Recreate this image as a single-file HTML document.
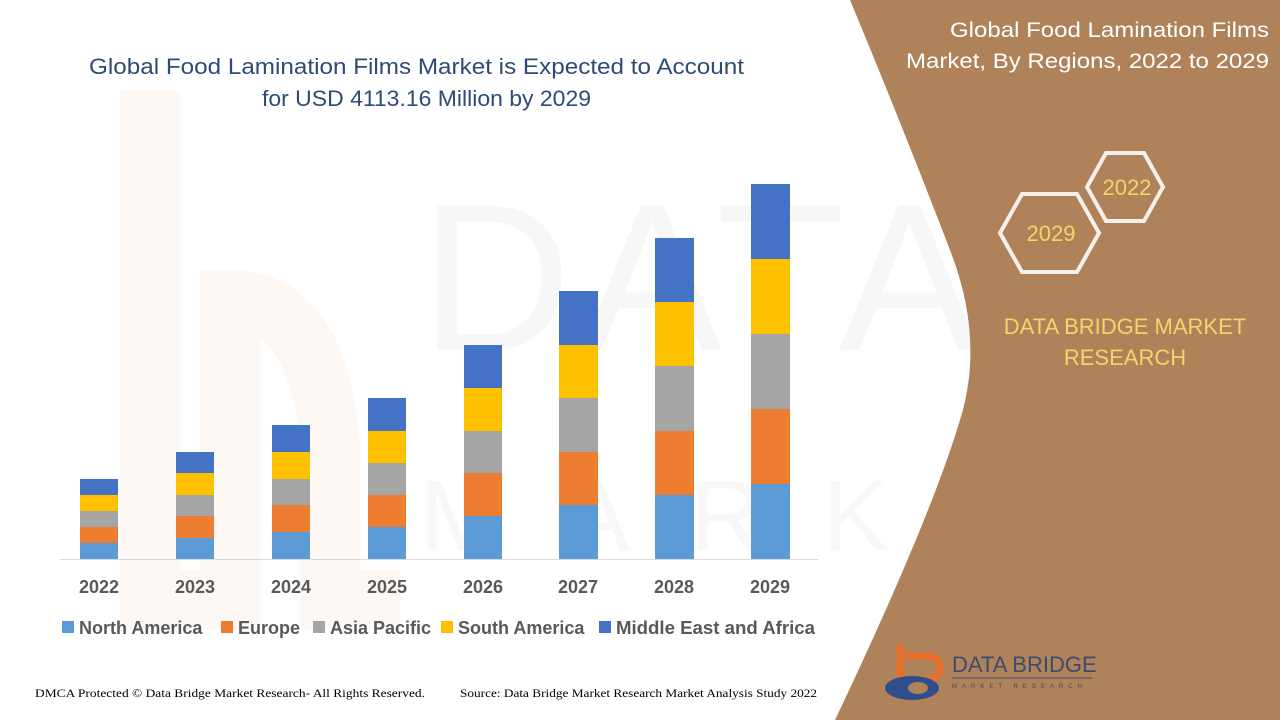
<!DOCTYPE html>
<html><head><meta charset="utf-8"><style>
html,body{margin:0;padding:0;background:#fff}
svg{display:block}
</style></head><body>
<svg width="1280" height="720" xmlns="http://www.w3.org/2000/svg" font-family="Liberation Sans, sans-serif">
<rect width="1280" height="720" fill="#fff"/>
<!-- faint watermark -->
<text x="420" y="350" font-size="210" fill="#f7f7f7" letter-spacing="10">DATA BRIDGE</text>
<text x="420" y="550" font-size="100" fill="#f8f8f8" letter-spacing="60">MARKET RESEARCH</text>
<path d="M150 90 L150 600 L230 600 L230 300 Q320 300 330 450 L330 600 L400 600" fill="none" stroke="#fef8f4" stroke-width="60"/>
<!-- brown panel -->
<path d="M850 0 L1280 0 L1280 720 L835 720 Q930 520 960 420 Q985 340 950 250 Q900 120 850 0 Z" fill="#b08259"/>
<text x="1269" y="37" font-size="21" fill="#fff" text-anchor="end" textLength="319" lengthAdjust="spacingAndGlyphs">Global Food Lamination Films</text>
<text x="1269" y="68" font-size="21" fill="#fff" text-anchor="end" textLength="363" lengthAdjust="spacingAndGlyphs">Market, By Regions, 2022 to 2029</text>
<polygon points="1087,187 1106,153 1144,153 1163,187 1144,221 1106,221" fill="none" stroke="#f4f0ea" stroke-width="4"/>
<polygon points="1000,233 1022,194 1077,194 1099,233 1077,272 1022,272" fill="none" stroke="#f4f0ea" stroke-width="4"/>
<text x="1127" y="195" font-size="22" fill="#f7d36a" text-anchor="middle">2022</text>
<text x="1051" y="241" font-size="22" fill="#f7d36a" text-anchor="middle">2029</text>
<text x="1125" y="334" font-size="22" fill="#f7d36a" text-anchor="middle">DATA BRIDGE MARKET</text>
<text x="1125" y="365" font-size="22" fill="#f7d36a" text-anchor="middle">RESEARCH</text>
<!-- logo -->
<path d="M900 645 L900 680 L925 680 Q940 680 940 668 Q940 656 925 656 L905 656" fill="none" stroke="#e8702a" stroke-width="7"/>
<ellipse cx="912" cy="688" rx="27" ry="12" fill="#2e4f8a"/>
<ellipse cx="918" cy="688" rx="10" ry="6" fill="#b08259"/>
<text x="952" y="672" font-size="22" fill="#3b4d6b">DATA BRIDGE</text>
<line x1="952" y1="678" x2="1092" y2="678" stroke="#3b4d6b" stroke-width="1"/>
<text x="952" y="688" font-size="6" fill="#3b4d6b" letter-spacing="5">MARKET RESEARCH</text>
<!-- title -->
<text x="89" y="74" font-size="22" fill="#2e4a78" textLength="655" lengthAdjust="spacingAndGlyphs">Global Food Lamination Films Market is Expected to Account</text>
<text x="262" y="106" font-size="22" fill="#2e4a78" textLength="329" lengthAdjust="spacingAndGlyphs">for USD 4113.16 Million by 2029</text>
<line x1="60" y1="559.5" x2="818" y2="559.5" stroke="#d9d9d9" stroke-width="1"/>
<g font-size="18" font-weight="bold" fill="#595959" text-anchor="middle">
<text x="99" y="593">2022</text><text x="195" y="593">2023</text><text x="291" y="593">2024</text><text x="387" y="593">2025</text>
<text x="483" y="593">2026</text><text x="578" y="593">2027</text><text x="674" y="593">2028</text><text x="770" y="593">2029</text>
</g>
<g font-size="18" font-weight="bold" fill="#595959">
<rect x="62" y="621" width="12" height="12" fill="#5b9bd5"/><text x="79" y="634">North America</text>
<rect x="221" y="621" width="12" height="12" fill="#ed7d31"/><text x="238" y="634">Europe</text>
<rect x="313" y="621" width="12" height="12" fill="#a5a5a5"/><text x="330" y="634">Asia Pacific</text>
<rect x="441" y="621" width="12" height="12" fill="#ffc000"/><text x="458" y="634">South America</text>
<rect x="599" y="621" width="12" height="12" fill="#4472c4"/><text x="616" y="634" textLength="199" lengthAdjust="spacingAndGlyphs">Middle East and Africa</text>
</g>
<text x="35" y="697" font-size="12" fill="#000" font-family="Liberation Serif, serif" textLength="390" lengthAdjust="spacingAndGlyphs">DMCA Protected © Data Bridge Market Research- All Rights Reserved.</text>
<text x="460" y="697" font-size="12" fill="#000" font-family="Liberation Serif, serif" textLength="357" lengthAdjust="spacingAndGlyphs">Source: Data Bridge Market Research Market Analysis Study 2022</text>
<g>
<rect x="80" y="543" width="38" height="16" fill="#5b9bd5"/><rect x="80" y="527" width="38" height="16" fill="#ed7d31"/><rect x="80" y="511" width="38" height="16" fill="#a5a5a5"/><rect x="80" y="495" width="38" height="16" fill="#ffc000"/><rect x="80" y="479" width="38" height="16" fill="#4472c4"/>
<rect x="176" y="538" width="38" height="21" fill="#5b9bd5"/><rect x="176" y="516" width="38" height="22" fill="#ed7d31"/><rect x="176" y="495" width="38" height="21" fill="#a5a5a5"/><rect x="176" y="473" width="38" height="22" fill="#ffc000"/><rect x="176" y="452" width="38" height="21" fill="#4472c4"/>
<rect x="272" y="532" width="38" height="27" fill="#5b9bd5"/><rect x="272" y="505" width="38" height="27" fill="#ed7d31"/><rect x="272" y="479" width="38" height="26" fill="#a5a5a5"/><rect x="272" y="452" width="38" height="27" fill="#ffc000"/><rect x="272" y="425" width="38" height="27" fill="#4472c4"/>
<rect x="368" y="527" width="38" height="32" fill="#5b9bd5"/><rect x="368" y="495" width="38" height="32" fill="#ed7d31"/><rect x="368" y="463" width="38" height="32" fill="#a5a5a5"/><rect x="368" y="431" width="38" height="32" fill="#ffc000"/><rect x="368" y="398" width="38" height="33" fill="#4472c4"/>
<rect x="464" y="516" width="38" height="43" fill="#5b9bd5"/><rect x="464" y="473" width="38" height="43" fill="#ed7d31"/><rect x="464" y="431" width="38" height="42" fill="#a5a5a5"/><rect x="464" y="388" width="38" height="43" fill="#ffc000"/><rect x="464" y="345" width="38" height="43" fill="#4472c4"/>
<rect x="559" y="505" width="39" height="54" fill="#5b9bd5"/><rect x="559" y="452" width="39" height="53" fill="#ed7d31"/><rect x="559" y="398" width="39" height="54" fill="#a5a5a5"/><rect x="559" y="345" width="39" height="53" fill="#ffc000"/><rect x="559" y="291" width="39" height="54" fill="#4472c4"/>
<rect x="655" y="495" width="39" height="64" fill="#5b9bd5"/><rect x="655" y="431" width="39" height="64" fill="#ed7d31"/><rect x="655" y="366" width="39" height="65" fill="#a5a5a5"/><rect x="655" y="302" width="39" height="64" fill="#ffc000"/><rect x="655" y="238" width="39" height="64" fill="#4472c4"/>
<rect x="751" y="484" width="39" height="75" fill="#5b9bd5"/><rect x="751" y="409" width="39" height="75" fill="#ed7d31"/><rect x="751" y="334" width="39" height="75" fill="#a5a5a5"/><rect x="751" y="259" width="39" height="75" fill="#ffc000"/><rect x="751" y="184" width="39" height="75" fill="#4472c4"/>
</g>
</svg>
</body></html>
